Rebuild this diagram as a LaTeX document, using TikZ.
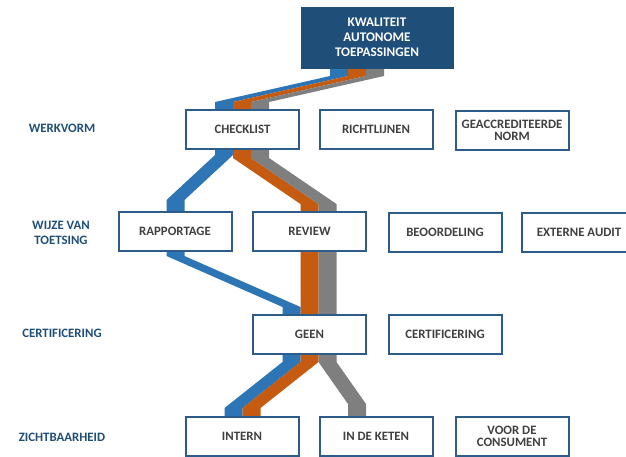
\documentclass[tikz,border=0pt]{standalone}
\usepackage{fontspec}
\setmainfont{Carlito}
\usetikzlibrary{shadows}
\definecolor{boxblue}{HTML}{2E5C8A}
\definecolor{darkblue}{HTML}{1F4E79}
\definecolor{txtgray}{HTML}{404040}
\definecolor{bandblue}{HTML}{2E75B6}
\definecolor{bandorange}{HTML}{C55A11}
\definecolor{bandgray}{HTML}{7F7F7F}
\tikzset{
  optbox/.style={draw=boxblue, line width=2pt, fill=white, minimum width=113pt, minimum height=39pt,
    inner sep=0pt, align=center, text=txtgray, font=\bfseries\fontsize{12.8}{12}\selectfont,
    drop shadow={opacity=0.2, shadow xshift=1pt, shadow yshift=-1pt}},
  topbox/.style={fill=darkblue, draw=darkblue, minimum width=152pt, minimum height=61pt, inner sep=0pt,
    align=center, text=white, font=\bfseries\fontsize{13.2}{15}\selectfont},
  rowlabel/.style={align=center, text=darkblue, font=\bfseries\fontsize{12.8}{15}\selectfont},
}
\begin{document}
\begin{tikzpicture}[x=1pt,y=-1pt]
\useasboundingbox (0,0) rectangle (626,456);
\begin{scope}
\clip (0,0) rectangle (626,456);
% ribbons
\fill[bandblue] (330,60) -- (330,76) -- (215,102) -- (215,155) -- (166.5,200) -- (166.5,256) -- (282.5,307) -- (282.5,362) -- (224.5,408) -- (224.5,425)
  -- (242.5,425) -- (242.5,408) -- (300.5,362) -- (300.5,307) -- (184.5,256) -- (184.5,200) -- (233,155) -- (233,102) -- (348,76) -- (348,60) -- cycle;
\fill[bandorange] (348,60) -- (348,76) -- (233,102) -- (233,158) -- (300.5,204) -- (300.5,362) -- (242.5,408) -- (242.5,425)
  -- (260.5,425) -- (260.5,408) -- (318.5,362) -- (318.5,204) -- (251,158) -- (251,102) -- (366,76) -- (366,60) -- cycle;
\fill[bandgray] (366,60) -- (366,76) -- (251,102) -- (251,158) -- (318.5,204) -- (318.5,362) -- (348,404) -- (348,425)
  -- (366,425) -- (366,404) -- (336.5,362) -- (336.5,204) -- (269,158) -- (269,102) -- (384,76) -- (384,60) -- cycle;

\node[topbox] (top) at (377,37.5) {KWALITEIT\\AUTONOME\\TOEPASSINGEN};

\node[optbox] (checklist) at (242.5,129.5) {CHECKLIST};
\node[optbox] (richtlijnen) at (376,129.5) {RICHTLIJNEN};
\node[optbox] (norm) at (512,130) {GEACCREDITEERDE\\NORM};

\node[optbox] (rapportage) at (175,231.5) {RAPPORTAGE};
\node[optbox] (review) at (309.5,231.5) {REVIEW};
\node[optbox] (beoordeling) at (445,232) {BEOORDELING};
\node[optbox, minimum width=114pt] (audit) at (579,232) {EXTERNE AUDIT};

\node[optbox] (geen) at (309.5,334.5) {GEEN};
\node[optbox] (cert) at (445,334.5) {CERTIFICERING};

\node[optbox] (intern) at (242,436.5) {INTERN};
\node[optbox] (keten) at (376,436.5) {IN DE KETEN};
\node[optbox] (consument) at (512,436.5) {VOOR DE\\CONSUMENT};

\node[rowlabel] (l1) at (62,128) {WERKVORM};
\node[rowlabel] (l2) at (61,233) {WIJZE VAN\\TOETSING};
\node[rowlabel] (l3) at (62,333) {CERTIFICERING};
\node[rowlabel] (l4) at (62,437) {ZICHTBAARHEID};
\end{scope}
\end{tikzpicture}
\end{document}
